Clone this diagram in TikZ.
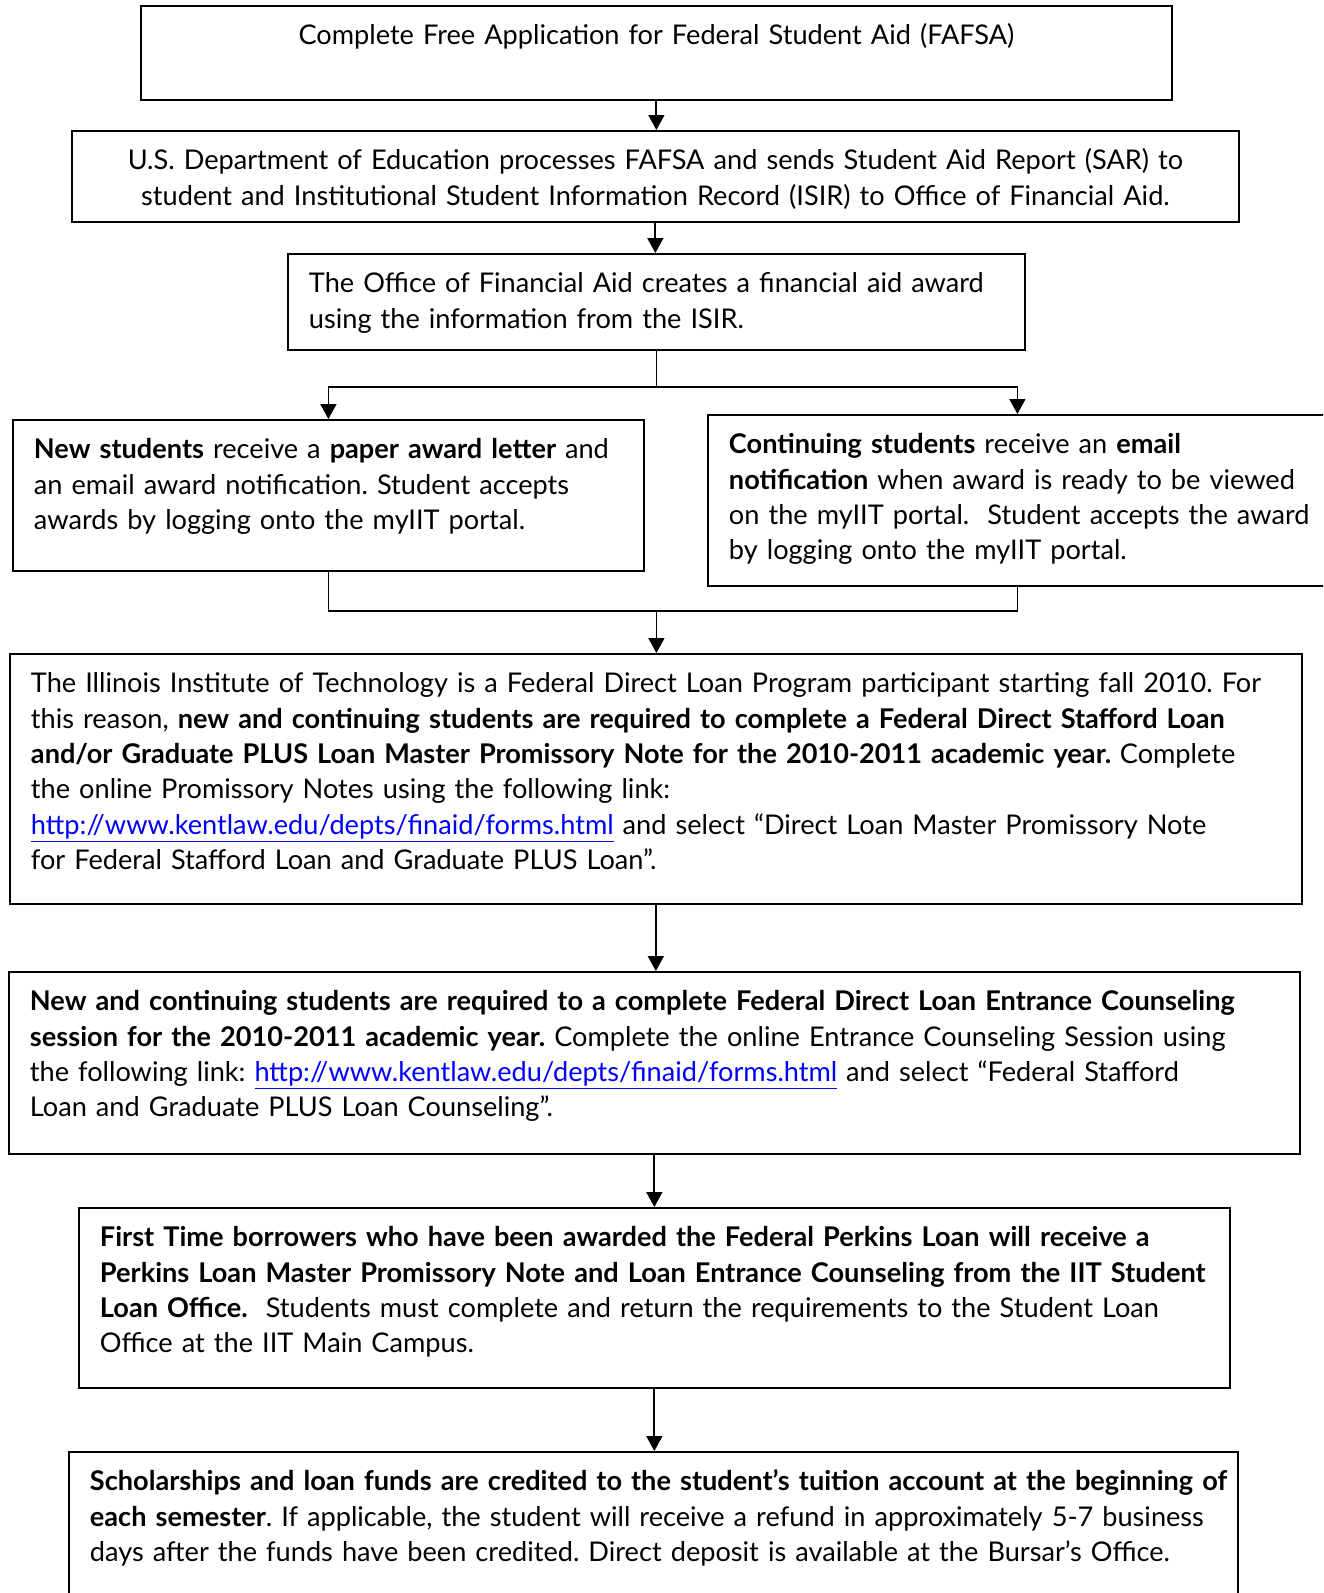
\documentclass[tikz,border=0pt]{standalone}
\usepackage{fontspec}
\setmainfont{Lato}
\usepackage{xcolor}
\usepackage{tikz}
\usetikzlibrary{arrows.meta,positioning,calc}
\tikzstyle{box} = [rectangle, draw=black, line width=1.1pt, anchor=north west, inner xsep=0.42cm, inner ysep=0pt, text height=0.78cm, align=left, font=\fontsize{15.45pt}{20.1pt}\selectfont\frenchspacing]
\tikzstyle{arrow} = [line width=1pt,->,>={Triangle[length=0.3cm,width=0.32cm]}]
\tikzstyle{line} = [line width=1pt]
\newcommand{\weblink}[1]{\textcolor{blue}{\underline{#1}}}

\begin{document}
\begin{tikzpicture}[x=0.02cm, y=-0.02cm]
				\clip (0,0) rectangle (1323,1593);
				\node (fafsa) [box, align=center, text width=19.78cm, text depth=1.10cm] at (140,5) {Complete Free Application for Federal Student Aid (FAFSA)};
				\node (doe) [box, align=center, text width=22.50cm, text depth=1.04cm] at (71,130) {U.S. Department of Education processes FAFSA and sends Student Aid Report (SAR) to\\student and Institutional Student Information Record (ISIR) to Office of Financial Aid.};
				\node (office) [box, text width=13.90cm, text depth=1.14cm] at (287,253) {The Office of Financial Aid creates a financial aid award\\using the information from the ISIR.};
				\node (newst) [box, text width=11.78cm, text depth=2.24cm] at (12,419) {\textbf{New students} receive a \textbf{paper award letter} and\\an email award notification. Student accepts\\awards by logging onto the myIIT portal.};
				\node (cont) [box, text width=11.54cm, text depth=2.64cm] at (707,414) {\mbox{\textbf{Continuing students} receive an \textbf{email}}\\\mbox{\textbf{notification} when award is ready to be viewed}\\\mbox{on the myIIT portal.~ Student accepts the award}\\\mbox{by logging onto the myIIT portal.}};
				\node (iit) [box, text width=25.00cm, text depth=4.22cm] at (9,653) {The Illinois Institute of Technology is a Federal Direct Loan Program participant starting fall 2010. For\\this reason, \textbf{new and continuing students are required to complete a Federal Direct Stafford Loan}\\\textbf{and/or Graduate PLUS Loan Master Promissory Note for the 2010-2011 academic year.} Complete\\the online Promissory Notes using the following link:\\\weblink{http://www.kentlaw.edu/depts/finaid/forms.html} and select “Direct Loan Master Promissory Note\\for Federal Stafford Loan and Graduate PLUS Loan”.};
				\node (couns) [box, text width=24.98cm, text depth=2.86cm] at (8,971) {\textbf{New and continuing students are required to a complete Federal Direct Loan Entrance Counseling}\\\textbf{session for the 2010-2011 academic year.} Complete the online Entrance Counseling Session using\\the following link: \weblink{http://www.kentlaw.edu/depts/finaid/forms.html} and select “Federal Stafford\\Loan and Graduate PLUS Loan Counseling”.};
				\node (perkins) [box, text width=22.18cm, text depth=2.82cm] at (78,1207) {\textbf{First Time borrowers who have been awarded the Federal Perkins Loan will receive a}\\\textbf{Perkins Loan Master Promissory Note and Loan Entrance Counseling from the IIT Student}\\\textbf{Loan Office.}~ Students must complete and return the requirements to the Student Loan\\Office at the IIT Main Campus.};
				\node (scholar) [box, text width=22.54cm, text depth=2.42cm] at (68,1451) {\mbox{\textbf{Scholarships and loan funds are credited to the student’s tuition account at the beginning of}}\\\mbox{\textbf{each semester}. If applicable, the student will receive a refund in approximately 5-7 business}\\\mbox{days after the funds have been credited. Direct deposit is available at the Bursar’s Office.}};

				\coordinate (split) at ($(office.south)+(0,36)$);
				\coordinate (join) at ($(split)+(0,224)$);

				\draw [arrow] (fafsa.south) -- (fafsa.south |- doe.north);
				\draw [arrow] (doe.south) -- (doe.south |- office.north);
				\draw [arrow] (office.south) -- (split) -| (newst.north);
				\draw [arrow] (split) -| (cont.north);
				\draw [line] (newst.south) |- (join) -| (cont.south);
				\draw [arrow] (join) -- (join |- iit.north);
				\draw [arrow] (iit.south) -- (iit.south |- couns.north);
				\draw [arrow] (couns.south) -- (couns.south |- perkins.north);
				\draw [arrow] (perkins.south) -- (perkins.south |- scholar.north);
			\end{tikzpicture}
\end{document}
